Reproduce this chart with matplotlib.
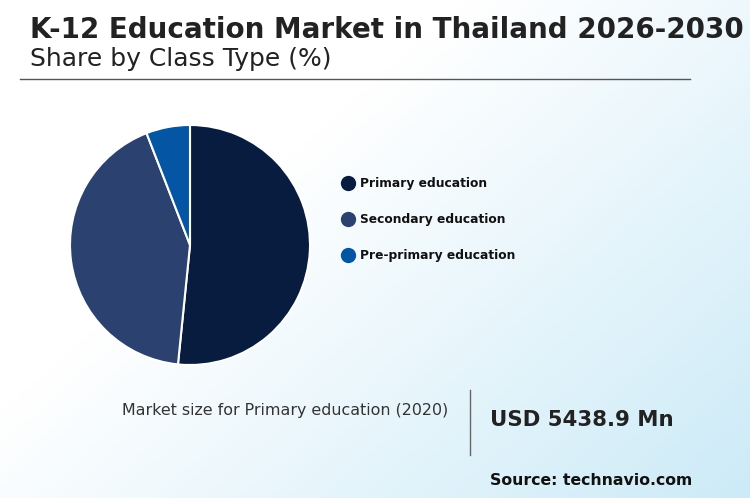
import numpy as np
import matplotlib.pyplot as plt
from matplotlib.lines import Line2D

labels = ["Primary education", "Secondary education", "Pre-primary education"]
shares = [51.6, 42.5, 5.9]
colors = ["#081c40", "#2b4170", "#0455a4"]

W, H = 750, 498
fig = plt.figure(figsize=(7.5, 4.98), dpi=100)

# background gradient
bg = fig.add_axes([0, 0, 1, 1])
xx, yy = np.meshgrid(np.linspace(0, 1, 200), np.linspace(0, 1, 200))
t = np.clip((xx * 0.8 + yy * 0.6) - 0.5, 0, 1) / 0.9
c0 = np.array([1, 1, 1]); c1 = np.array([0.80, 0.92, 0.97])
img = c0 + (c1 - c0) * t[..., None]
bg.imshow(img, extent=[0, W, H, 0], aspect="auto")
bg.set_xlim(0, W); bg.set_ylim(H, 0); bg.axis("off")

bg.text(30, 30, "K-12 Education Market in Thailand 2026-2030", fontsize=20,
        fontweight="bold", color="#222222", va="center")
bg.text(30, 59, "Share by Class Type (%)", fontsize=18, color="#222222", va="center")
bg.add_line(Line2D([20, 690], [79, 79], color="#555555", lw=1))

for i, lab in enumerate(labels):
    y = 183 + 36 * i
    bg.plot(348, y, "o", ms=10, color=colors[i])
    bg.text(360, y, lab, fontsize=8.8, fontweight="bold", va="center", color="#111111")

bg.text(122, 410, "Market size for Primary education (2020)", fontsize=11.4,
        va="center", color="#333333")
bg.add_line(Line2D([470, 470], [390, 455], color="#666666", lw=1))
bg.text(490, 420, "USD 5438.9 Mn", fontsize=15.3, fontweight="bold", va="center",
        color="#222222")
bg.text(490, 480, "Source: technavio.com", fontsize=11.3, fontweight="bold",
        va="center", color="#111111")

r = 120
ax = fig.add_axes([(190 - r) / W, 1 - (245 + r) / H, 2 * r / W, 2 * r / H])
ax.pie(shares, colors=colors, startangle=90, counterclock=False,
       wedgeprops=dict(edgecolor="white", linewidth=1.5))
ax.set_xlim(-1, 1); ax.set_ylim(-1, 1)
ax.set_aspect("auto")

fig.savefig("out.png", dpi=100)
